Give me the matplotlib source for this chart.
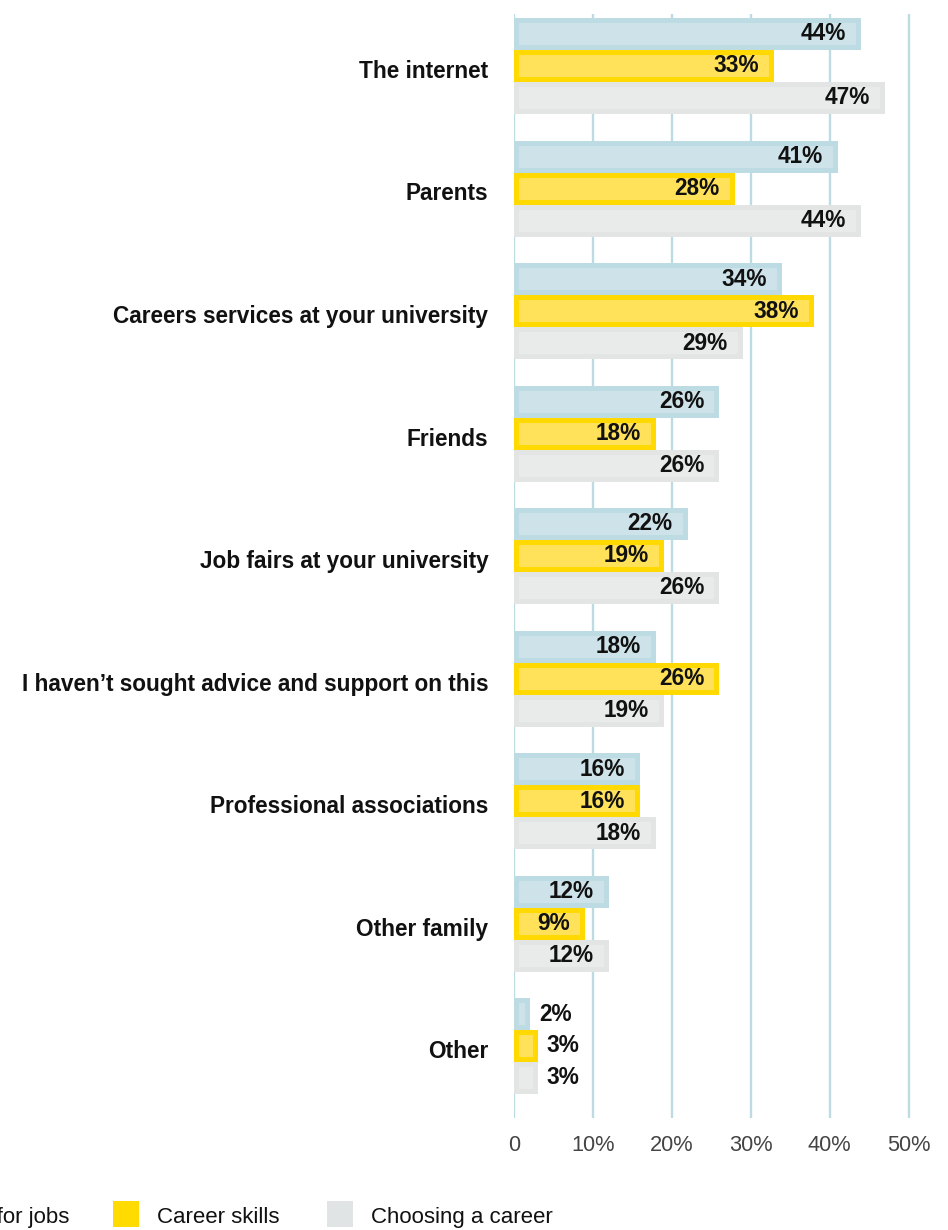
import matplotlib
matplotlib.use("Agg")
import matplotlib.pyplot as plt
from matplotlib.patches import Rectangle
import matplotlib.transforms as mtransforms
import numpy as np

plt.rcParams['font.family'] = ['Liberation Sans', 'DejaVu Sans']

categories = [
    "The internet",
    "Parents",
    "Careers services at your university",
    "Friends",
    "Job fairs at your university",
    "I haven\u2019t sought advice and support on this",
    "Professional associations",
    "Other family",
    "Other",
]
applying_for_jobs = [44, 41, 34, 26, 22, 18, 16, 12, 2]
career_skills = [33, 28, 38, 18, 19, 26, 16, 9, 3]
choosing_a_career = [47, 44, 29, 26, 26, 19, 18, 12, 3]

series_names = ["Applying for jobs", "Career skills", "Choosing a career"]
series_values = [applying_for_jobs, career_skills, choosing_a_career]
outer_colors = ["#bcdbe2", "#ffd900", "#e3e5e5"]
inner_colors = ["#cde3e9", "#ffe25a", "#e9eaea"]
legend_colors = ["#bcdbe2", "#ffdb00", "#e1e4e4"]

xticks = [0, 10, 20, 30, 40, 50]
xtick_labels = ["0", "10%", "20%", "30%", "40%", "50%"]

W, H = 948, 1230
fig = plt.figure(figsize=(W / 100, H / 100), dpi=100)

ax_left, ax_right, ax_top, ax_bottom = 514, 948, 14, 1118
ax = fig.add_axes([ax_left / W, 1 - ax_bottom / H,
                   (ax_right - ax_left) / W, (ax_bottom - ax_top) / H])

pitch_px = 122.5
bar_h = 32 / pitch_px
xmax = 55
px_per_unit_x = (ax_right - ax_left) / xmax
inset_x = 5 / px_per_unit_x
inset_y = 5 / pitch_px

n = len(categories)
y = np.arange(n)
top_lim = -1.5 * bar_h - 4 / pitch_px
bottom_lim = top_lim + (ax_bottom - ax_top) / pitch_px
ax.set_ylim(bottom_lim, top_lim)
ax.set_xlim(0, xmax)

for k, (vals, oc, ic) in enumerate(zip(series_values, outer_colors, inner_colors)):
    yy = y + (k - 1) * bar_h
    vals = np.array(vals, dtype=float)
    ax.barh(yy, vals, height=bar_h, color=oc, zorder=3, linewidth=0)
    inner_w = np.clip(vals - 2 * inset_x, 0, None)
    ax.barh(yy, inner_w, left=inset_x, height=bar_h - 2 * inset_y,
            color=ic, zorder=4, linewidth=0)
    for yi, v in zip(yy, vals):
        if v >= 5:
            ax.text(v - 15 / px_per_unit_x, yi, f"{v:.0f}%", ha="right", va="center",
                    fontsize=16.3, fontweight="bold", color="#111111", zorder=5)
        else:
            ax.text(v + 9 / px_per_unit_x, yi, f"{v:.0f}%", ha="left", va="center",
                    fontsize=16.3, fontweight="bold", color="#111111", zorder=5)

for x in xticks:
    ax.axvline(x, color="#bddbe2", linewidth=1.7, zorder=1)

ax.set_xticks(xticks)
ax.set_xticklabels(xtick_labels, fontsize=15.7, color="#444444")
ax.set_yticks(y)
ax.set_yticklabels(categories, fontsize=16.3, fontweight="bold", color="#111111")
ax.tick_params(axis="x", length=0, pad=12)
ax.tick_params(axis="y", length=0, pad=18.5)
shift = mtransforms.ScaledTranslation(0, -3 / 100, fig.dpi_scale_trans)
for lbl in ax.get_yticklabels():
    lbl.set_transform(lbl.get_transform() + shift)
for s in ax.spines.values():
    s.set_visible(False)

# legend row along the bottom edge
fig.canvas.draw()
renderer = fig.canvas.get_renderer()
leg_y = 1 - 1214 / H
base_y = 1 - 1223 / H
patch_w, patch_h = 26 / W, 26 / H
gap = 18 / W

first_text = fig.text(69 / W, base_y, series_names[0], ha="right", va="baseline",
                      fontsize=16, color="#111111")
bb = first_text.get_window_extent(renderer)
fig.add_artist(Rectangle((bb.x0 / W - gap - patch_w, leg_y - patch_h / 2), patch_w, patch_h,
                         transform=fig.transFigure, color=legend_colors[0], linewidth=0))

for name, col, px in zip(series_names[1:], legend_colors[1:], [113, 327]):
    fig.add_artist(Rectangle((px / W, leg_y - patch_h / 2), patch_w, patch_h,
                             transform=fig.transFigure, color=col, linewidth=0))
    fig.text(px / W + patch_w + gap, base_y, name, ha="left", va="baseline",
             fontsize=16, color="#111111")

fig.savefig("out.png", dpi=100)
